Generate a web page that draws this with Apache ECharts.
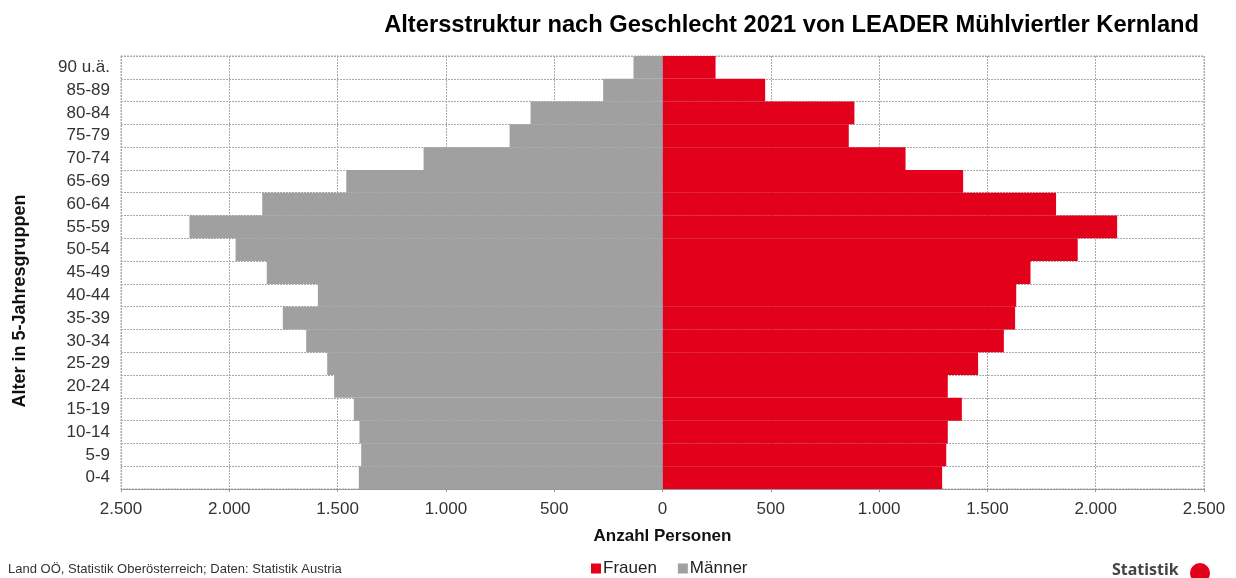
<!DOCTYPE html>
<html>
<head>
<meta charset="utf-8">
<script src="https://cdn.jsdelivr.net/npm/echarts@6/dist/echarts.min.js"></script>
<style>
  html, body { margin: 0; padding: 0; background: #fff; }
  #chart { width: 1236px; height: 578px; }
</style>
</head>
<body>
<div id="chart"></div>
<script>
// age groups, bottom to top
const ageGroups = ["0-4", "5-9", "10-14", "15-19", "20-24", "25-29", "30-34", "35-39", "40-44",
  "45-49", "50-54", "55-59", "60-64", "65-69", "70-74", "75-79", "80-84", "85-89", "90 u.ä."];
const frauen = [1291, 1310, 1317, 1382, 1317, 1457, 1576, 1628, 1633,
  1699, 1917, 2099, 1817, 1388, 1122, 860, 886, 474, 245];
const maenner = [1402, 1391, 1399, 1425, 1516, 1548, 1645, 1753, 1591,
  1827, 1971, 2184, 1848, 1460, 1103, 706, 609, 274, 134];

const red = "#E2001A";
const grey = "#A0A0A0";
const font = "'Liberation Sans', Arial, sans-serif";

const fmt = (v) => String(Math.abs(v)).replace(/\B(?=(\d{3})+(?!\d))/g, ".");

const chart = echarts.init(document.getElementById("chart"));
chart.setOption({
  animation: false,
  textStyle: { fontFamily: font },
  title: {
    text: "Altersstruktur nach Geschlecht 2021 von LEADER Mühlviertler Kernland",
    right: 32,
    top: 8,
    textStyle: { fontSize: 23.7, fontWeight: "bold", color: "#000", fontFamily: font },
  },
  legend: {
    top: 560,
    left: 591,
    padding: 0,
    icon: "rect",
    itemWidth: 10,
    itemHeight: 10,
    itemGap: 21,
    textStyle: { fontSize: 17, color: "#222", fontFamily: font, padding: [0, 0, 0, -3] },
    data: ["Frauen", "Männer"],
  },
  grid: { left: 121, right: 32, top: 56, bottom: 89 },
  xAxis: {
    type: "value",
    min: -2500,
    max: 2500,
    interval: 500,
    name: "Anzahl Personen",
    nameLocation: "middle",
    nameGap: 39,
    nameTextStyle: { fontSize: 17, fontWeight: "bold", color: "#111" },
    axisLine: { show: true, lineStyle: { color: "#999" } },
    axisTick: { show: true, length: 3, lineStyle: { color: "#999" } },
    axisLabel: { formatter: fmt, fontSize: 17, color: "#333", margin: 12 },
    splitLine: { show: true, lineStyle: { color: "#aaa", type: [2, 1], width: 1 } },
  },
  yAxis: {
    type: "category",
    data: ageGroups,
    axisLine: { show: false },
    axisTick: { show: false },
    axisLabel: { fontSize: 17, color: "#333", margin: 11 },
    splitLine: { show: true, lineStyle: { color: "#aaa", type: [2, 1], width: 1 } },
  },
  series: [
    {
      name: "Frauen",
      type: "bar",
      data: frauen,
      barCategoryGap: 0,
      barGap: "-100%",
      itemStyle: { color: red },
    },
    {
      name: "Männer",
      type: "bar",
      data: maenner.map((v) => -v),
      barCategoryGap: 0,
      barGap: "-100%",
      itemStyle: { color: grey },
    },
  ],
  graphic: [
    {
      type: "rect",
      shape: { x: 121, y: 56, width: 1083, height: 433 },
      style: { fill: "none", stroke: "#aaa", lineWidth: 1, lineDash: [2, 1] },
      z: -1,
      silent: true,
    },
    {
      // y axis title, sits a bit below the plot centre in the original
      type: "text",
      x: 20,
      y: 301,
      rotation: Math.PI / 2,
      style: {
        text: "Alter in 5-Jahresgruppen",
        font: "bold 18px 'Liberation Sans', Arial, sans-serif",
        fill: "#111",
        align: "center",
        verticalAlign: "middle",
      },
    },
    {
      type: "text",
      left: 8,
      top: 563,
      style: {
        text: "Land OÖ, Statistik Oberösterreich; Daten: Statistik Austria",
        font: "13px 'Liberation Sans Narrow', 'Liberation Sans', Arial, sans-serif",
        fill: "#333",
      },
    },
    {
      type: "text",
      left: 1112,
      top: 562,
      style: {
        text: "Statistik",
        font: "bold 16px 'Noto Sans', sans-serif",
        fill: "#444",
      },
    },
    {
      type: "circle",
      shape: { cx: 1200, cy: 573, r: 10 },
      style: { fill: red },
    },
  ],
});
</script>
</body>
</html>
